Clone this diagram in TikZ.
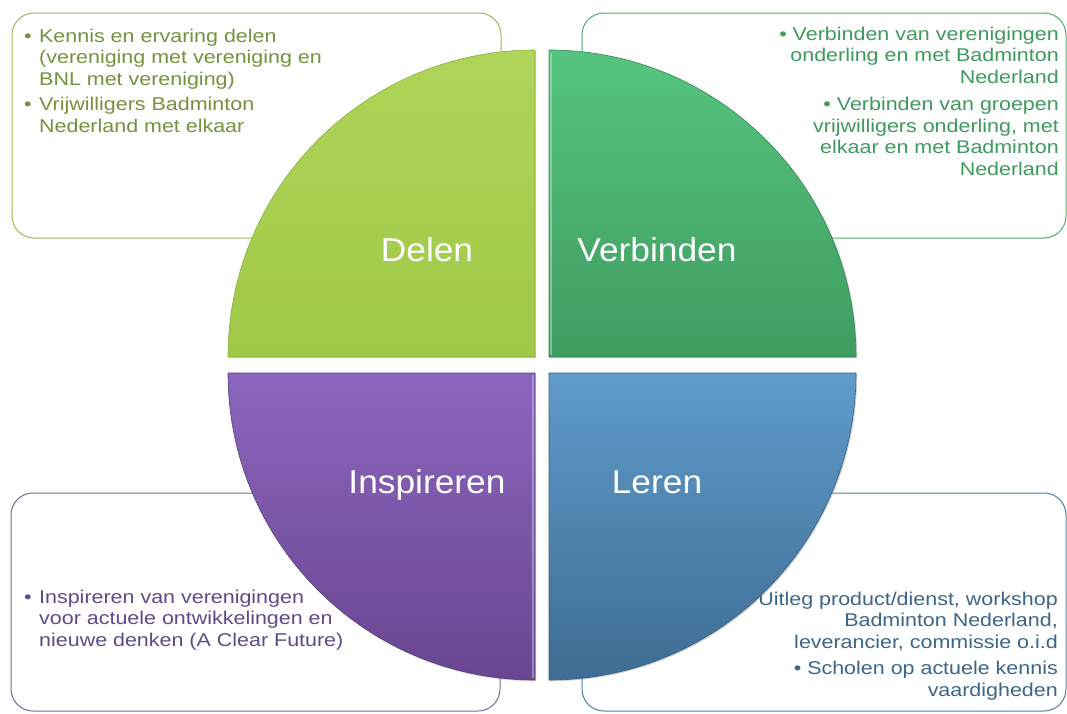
\documentclass[tikz,border=0pt]{standalone}
\usepackage{fontspec}
\setmainfont{Liberation Sans}
\newfontfamily\boxfont[FakeStretch=1.16]{Liberation Sans}
\newfontfamily\labelfont[FakeStretch=1.07]{Liberation Sans}
\usetikzlibrary{shadows}
\definecolor{delenline}{HTML}{9BBB59}
\definecolor{delentext}{HTML}{76923C}
\definecolor{delentop}{HTML}{AED559}
\definecolor{delenbot}{HTML}{A0C847}
\definecolor{delenedge}{HTML}{8DB23C}
\definecolor{verbline}{HTML}{4DAF6E}
\definecolor{verbtext}{HTML}{3E9A5E}
\definecolor{verbtop}{HTML}{56C481}
\definecolor{verbbot}{HTML}{3F9C60}
\definecolor{verbedge}{HTML}{358A52}
\definecolor{insline}{HTML}{8064A2}
\definecolor{instext}{HTML}{5F4A8B}
\definecolor{instop}{HTML}{8C66BE}
\definecolor{insbot}{HTML}{684690}
\definecolor{insedge}{HTML}{5A3D7E}
\definecolor{lerline}{HTML}{4F7FA8}
\definecolor{lertext}{HTML}{3B6689}
\definecolor{lertop}{HTML}{5F9BCB}
\definecolor{lerbot}{HTML}{3E6C92}
\definecolor{leredge}{HTML}{365F82}
\begin{document}
\begin{tikzpicture}[x=1pt,y=-1pt,
  infobox/.style={rounded corners=22pt, line width=1pt},
  boxtext/.style={anchor=base west, inner sep=0pt, font=\boxfont\fontsize{18.5}{21.5}\selectfont},
  boxtextr/.style={anchor=base east, inner sep=0pt, font=\boxfont\fontsize{18.5}{21.5}\selectfont},
  quad/.style={line width=0.6pt, drop shadow={opacity=0.35, shadow xshift=1.2pt, shadow yshift=-1.2pt}},
  glint/.style={line width=2.5pt, opacity=0.55},
  qlabel/.style={anchor=base, text=white, inner sep=0pt, font=\labelfont\fontsize{33}{40}\selectfont}]
\useasboundingbox (0,0) rectangle (1067,713);
\fill[white] (0,0) rectangle (1067,713);
% info boxes
\draw[infobox, draw=delenline] (12,13) rectangle (501,238);
\draw[infobox, draw=verbline] (582,13) rectangle (1066,238);
\draw[infobox, draw=insline] (11,493) rectangle (500,711);
\draw[infobox, draw=lerline] (582,493) rectangle (1066,711);
% box texts
\node[boxtext, text=delentext] (tdelen) at (24,42) {\begin{tabular}[t]{@{}l@{}l@{}}
\makebox[15pt][l]{•}&Kennis en ervaring delen\\
&(vereniging met vereniging en\\
&BNL met vereniging)\\[4pt]
\makebox[15pt][l]{•}&Vrijwilligers Badminton\\
&Nederland met elkaar
\end{tabular}};
\node[boxtextr, text=verbtext] (tverb) at (1059,40) {\begin{tabular}[t]{@{}r@{}}
• Verbinden van verenigingen\\
onderling en met Badminton\\
Nederland\\[6pt]
• Verbinden van groepen\\
vrijwilligers onderling, met\\
elkaar en met Badminton\\
Nederland
\end{tabular}};
\node[boxtext, text=instext] (tins) at (24,603) {\begin{tabular}[t]{@{}l@{}l@{}}
\makebox[15pt][l]{•}&Inspireren van verenigingen\\
&voor actuele ontwikkelingen en\\
&nieuwe denken (A Clear Future)
\end{tabular}};
\node[boxtextr, text=lertext] (tler) at (1058,605) {\begin{tabular}[t]{@{}r@{}}
Uitleg product/dienst, workshop\\
Badminton Nederland,\\
leverancier, commissie o.i.d\\[5pt]
• Scholen op actuele kennis\\
vaardigheden
\end{tabular}};
% quadrants
\path[quad, top color=delentop, bottom color=delenbot, draw=delenedge]
  (535,357) -- (228,357) arc[start angle=180, end angle=270, radius=307] -- cycle;
\path[quad, top color=verbtop, bottom color=verbbot, draw=verbedge]
  (549,357) -- (549,50) arc[start angle=270, end angle=360, radius=307] -- cycle;
\path[quad, top color=lertop, bottom color=lerbot, draw=leredge]
  (549,373) -- (856,373) arc[start angle=0, end angle=90, radius=307] -- cycle;
\path[quad, top color=instop, bottom color=insbot, draw=insedge]
  (535,373) -- (535,680) arc[start angle=90, end angle=180, radius=307] -- cycle;
% bevel highlights
\coordinate (vh1) at (550.8,53);
\coordinate (vh2) at (550.8,355);
\draw[glint, draw=verbtop!45!white] (vh1) -- (vh2);
\coordinate (ih1) at (533.2,375);
\coordinate (ih2) at (533.2,678);
\draw[glint, draw=instop!45!white] (ih1) -- (ih2);
% labels
\node[qlabel] (ldelen) at (427,261) {Delen};
\node[qlabel] (lverb) at (657,261) {Verbinden};
\node[qlabel] (lins) at (427,493) {Inspireren};
\node[qlabel] (ller) at (657,493) {Leren};
\end{tikzpicture}
\end{document}
